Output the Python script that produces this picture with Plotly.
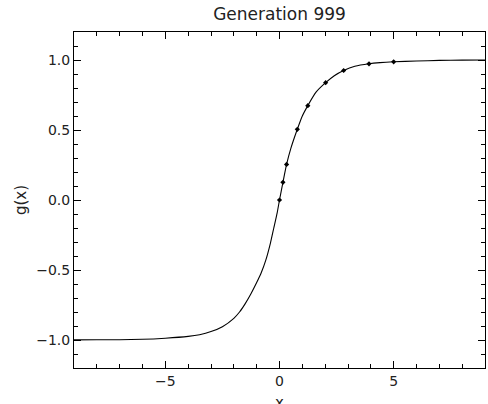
import plotly.graph_objects as go

# Curve g(x)
curve_x = [-9.0, -8.0, -7.0, -6.0, -5.0, -4.0, -3.5, -3.0, -2.5, -2.0, -1.75, -1.5,
           -1.25, -1.0, -0.8, -0.6, -0.4, -0.25, -0.1, 0.0, 0.15, 0.31, 0.5, 0.78,
           1.0, 1.24, 1.6, 2.02, 2.4, 2.81, 3.3, 3.92, 4.4, 5.0, 6.0, 7.0, 8.0, 9.0]
curve_y = [-0.999, -0.998, -0.998, -0.995, -0.987, -0.974, -0.962, -0.94, -0.905, -0.845, -0.80, -0.74,
           -0.67, -0.59, -0.52, -0.43, -0.31, -0.2, -0.09, 0.0, 0.126, 0.254, 0.37, 0.505,
           0.60, 0.674, 0.77, 0.838, 0.888, 0.925, 0.955, 0.973, 0.981, 0.987, 0.993, 0.997, 0.999, 1.0]

# Sample points (diamond markers)
pts_x = [0.0, 0.15, 0.31, 0.78, 1.24, 2.02, 2.81, 3.92, 5.0]
pts_y = [0.0, 0.126, 0.254, 0.505, 0.674, 0.838, 0.925, 0.973, 0.987]

x_ticks = [-5, 0, 5]
x_tick_text = ["\u22125", "0", "5"]
y_ticks = [-1.0, -0.5, 0.0, 0.5, 1.0]
y_tick_text = ["\u22121.0", "\u22120.5", "0.0", "0.5", "1.0"]

FONT = "DejaVu Sans"
TXT = "#222"

fig = go.Figure()
fig.add_trace(go.Scatter(x=curve_x, y=curve_y, mode="lines",
                         line=dict(color="black", width=1.1, shape="spline", smoothing=0.6),
                         showlegend=False, hoverinfo="skip"))
fig.add_trace(go.Scatter(x=pts_x, y=pts_y, mode="markers",
                         marker=dict(symbol="diamond", size=4, color="black"),
                         showlegend=False))

axis_common = dict(
    showgrid=False, zeroline=False, showline=True, linecolor="black", linewidth=1,
    mirror="ticks", ticks="inside", ticklen=7, tickwidth=1, tickcolor="black",
    tickfont=dict(family=FONT, size=14, color=TXT),
)

fig.update_xaxes(range=[-9, 9], tickmode="array", tickvals=x_ticks, ticktext=x_tick_text,
                 minor=dict(dtick=1, ticks="inside", ticklen=4, tickcolor="black", showgrid=False),
                 automargin=False, **axis_common)
fig.update_yaxes(range=[-1.2, 1.2], tickmode="array", tickvals=y_ticks, ticktext=y_tick_text,
                 minor=dict(dtick=0.1, ticks="inside", ticklen=4, tickcolor="black", showgrid=False),
                 title=dict(text="g(x)", font=dict(family=FONT, size=15, color=TXT), standoff=5),
                 automargin=False, **axis_common)

plot_h = 404 - 32 - 36
fig.add_annotation(text="x", xref="paper", yref="paper", x=0.5, y=-(403 - 368) / plot_h,
                   xanchor="center", yanchor="middle", showarrow=False,
                   font=dict(family=FONT, size=15, color=TXT))

fig.update_layout(
    width=488, height=404,
    margin=dict(l=74, r=3, t=32, b=36),
    paper_bgcolor="white", plot_bgcolor="white",
    title=dict(text="Generation 999", x=(74 + 485) / 2 / 488, xanchor="center",
               y=1 - 14 / 404, yanchor="middle",
               font=dict(family=FONT, size=17, color=TXT)),
)

fig.write_html("out.html")
